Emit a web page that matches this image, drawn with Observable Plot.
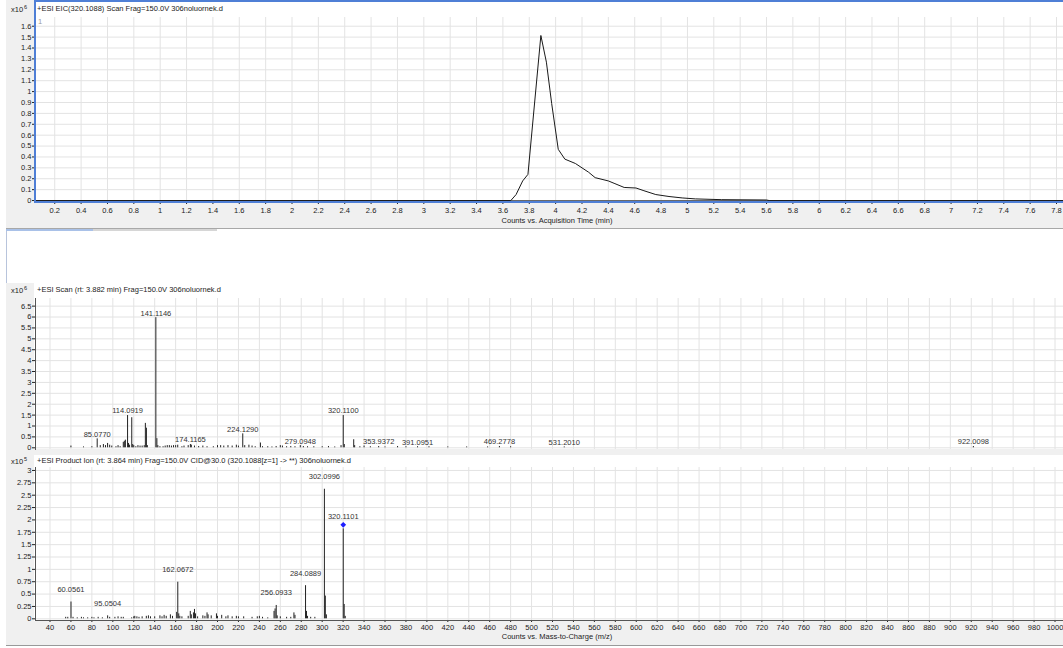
<!DOCTYPE html>
<html><head><meta charset="utf-8">
<script src="https://cdn.jsdelivr.net/npm/d3@7"></script>
<script src="https://cdn.jsdelivr.net/npm/@observablehq/plot@0.6"></script>
<style>
body{margin:0;background:#fff;}
#wrap{position:relative;width:1063px;height:648px;overflow:hidden;font-family:"Liberation Sans",Arial,sans-serif;color:#222;background:#fff;}
.bg{position:absolute;background:#f0f0f0;}
.t{position:absolute;font-size:7.5px;white-space:nowrap;line-height:1;color:#222;}
.t sup{font-size:5.5px;vertical-align:3px;margin-left:1px;}
#wrap svg{position:absolute;left:0;}
</style></head><body><div id="wrap">
<div class="bg" style="left:6px;top:0;width:28px;height:228px"></div>
<div class="bg" style="left:6px;top:203px;width:1057px;height:25px;border-bottom:1px solid #a8a8a8"></div>
<div style="position:absolute;left:6px;top:229px;width:87px;height:2px;background:#a9c1e8"></div>
<div style="position:absolute;left:93px;top:229px;width:124px;height:2px;background:#d6d6d6"></div>
<div style="position:absolute;left:6px;top:231px;width:1px;height:52px;background:#b8c4dc"></div>
<div class="bg" style="left:6px;top:283px;width:28px;height:172px"></div>
<div class="bg" style="left:6px;top:449px;width:1057px;height:6px"></div>
<div class="bg" style="left:6px;top:455px;width:28px;height:190px"></div>
<div class="bg" style="left:6px;top:621px;width:1057px;height:24px;border-bottom:1px solid #999"></div>
<div id="p1"></div><div id="p2"></div><div id="p3"></div>
<div style="position:absolute;left:34px;top:0;width:1040px;height:203px;box-sizing:border-box;border:2px solid #4f7fd6;pointer-events:none"></div>
<div class="t" style="left:11px;top:5px">x10<sup>6</sup></div>
<div class="t" style="left:37px;top:5px">+ESI EIC(320.1088) Scan Frag=150.0V 306noluornek.d</div>
<div class="t" style="left:38px;top:18px;color:#999">1</div>
<div class="t" style="left:557px;top:217px;transform:translateX(-50%)">Counts vs. Acquisition Time (min)</div>
<div class="t" style="left:11px;top:286px">x10<sup>6</sup></div>
<div class="t" style="left:37px;top:286px">+ESI Scan (rt: 3.882 min) Frag=150.0V 306noluornek.d</div>
<div class="t" style="left:11px;top:457px">x10<sup>5</sup></div>
<div class="t" style="left:37px;top:457px">+ESI Product Ion (rt: 3.864 min) Frag=150.0V CID@30.0 (320.1088[z=1] -&gt; **) 306noluornek.d</div>
<div class="t" style="left:557px;top:633px;transform:translateX(-50%)">Counts vs. Mass-to-Charge (m/z)</div>
</div>
<script>
// ---- EIC chromatogram (x10^6 counts vs minutes)
const eicTime   = [0.05, 3.66, 3.70, 3.75, 3.79, 3.888, 3.93, 3.97, 4.02, 4.07, 4.15, 4.25, 4.30, 4.40, 4.45, 4.52, 4.61, 4.67, 4.76, 4.86, 4.96, 5.06, 5.26, 5.60, 5.62, 7.86];
const eicCounts = [0, 0, 0.055, 0.18, 0.24, 1.515, 1.27, 0.89, 0.47, 0.38, 0.34, 0.26, 0.21, 0.18, 0.155, 0.12, 0.115, 0.09, 0.055, 0.037, 0.024, 0.015, 0.008, 0.005, 0, 0];
const timeTicks = [0.2,0.4,0.6,0.8,1,1.2,1.4,1.6,1.8,2,2.2,2.4,2.6,2.8,3,3.2,3.4,3.6,3.8,4,4.2,4.4,4.6,4.8,5,5.2,5.4,5.6,5.8,6,6.2,6.4,6.6,6.8,7,7.2,7.4,7.6,7.8];
const eicYTicks = [0,0.1,0.2,0.3,0.4,0.5,0.6,0.7,0.8,0.9,1,1.1,1.2,1.3,1.4,1.5,1.6];

// ---- MS scan (x10^6 counts vs m/z)
const scanMz = [60,72,80,85.0770,88,91,93,95,97,99,103,105,107,110,111,112,114.0919,115,116,118.09,119,120,122,124,126,128,130,131.1,132.1,133,141.1146,142.1,143,145,148,150,152,154,156,158,160,162,166,168,172,174.1165,175,178,182,186,190,196,200,203,206,210,214,218,220,224.1290,226,230,233,236,241,243,248,252,256,260,262,266,270,274,279.0948,282,286,292,300,306,312,318,320.1100,321.1,330.1,331,336,340,346,353.9372,360,372,380,391.0951,402,420,438,458,469.2778,480,531.2010,922.0098];
const scanInt = [0.08,0.04,0.05,0.41,0.1,0.15,0.1,0.2,0.12,0.08,0.05,0.1,0.05,0.25,0.3,0.35,1.48,0.2,0.12,1.38,0.15,0.1,0.05,0.1,0.08,0.08,0.1,1.12,0.9,0.1,5.97,0.42,0.1,0.05,0.05,0.08,0.1,0.1,0.08,0.1,0.1,0.12,0.05,0.08,0.1,0.15,0.12,0.08,0.06,0.08,0.05,0.05,0.1,0.1,0.08,0.1,0.08,0.12,0.08,0.64,0.1,0.12,0.08,0.05,0.22,0.05,0.05,0.04,0.06,0.1,0.08,0.05,0.06,0.05,0.1,0.06,0.05,0.05,0.05,0.06,0.04,0.1,1.48,0.15,0.37,0.1,0.05,0.08,0.05,0.06,0.04,0.06,0.05,0.05,0.05,0.04,0.04,0.04,0.06,0.05,0.04,0.06];
const scanLabels = ["85.0770","114.0919","141.1146","174.1165","224.1290","279.0948","320.1100","353.9372","391.0951","469.2778","531.2010","922.0098"];
const scanYTicks = [0,0.5,1,1.5,2,2.5,3,3.5,4,4.5,5,5.5,6,6.5];

// ---- Product ion spectrum (x10^5 counts vs m/z)
const prodMz = [55,57,60.0561,62,66,70,72,76,80,82,86,90,95.0504,97,102,105,108,110,118,120,121,123,125,128,132,134,136,140,145,147,149,151,155,157,161,162.0672,163,164,166,172,174,175,177,178,179,181,186,188,190,191,194,199,200,204,208,210,214,218,220,225,233,238,240,243,248,254,255,256.0933,257,260,266,270,273,274,284.0889,285,286,289,293,302.0996,303,304,320.1101,321,322];
const prodInt = [0.03,0.03,0.34,0.03,0.02,0.03,0.02,0.02,0.03,0.02,0.03,0.02,0.06,0.03,0.03,0.04,0.03,0.03,0.02,0.04,0.05,0.04,0.03,0.04,0.05,0.06,0.04,0.04,0.06,0.04,0.07,0.05,0.08,0.05,0.13,0.74,0.1,0.05,0.04,0.05,0.15,0.08,0.12,0.19,0.1,0.04,0.06,0.05,0.12,0.08,0.06,0.1,0.05,0.07,0.04,0.06,0.04,0.05,0.04,0.04,0.03,0.04,0.05,0.03,0.02,0.15,0.2,0.27,0.06,0.04,0.03,0.03,0.12,0.07,0.67,0.15,0.05,0.03,0.03,2.62,0.46,0.08,1.82,0.29,0.05];
const prodLabels = ["60.0561","95.0504","162.0672","256.0933","284.0889","302.0996","320.1101"];
const precursorMz = [320.1101];
const precursorLevel = [1.9];
const prodYTicks = [0,0.25,0.5,0.75,1,1.25,1.5,1.75,2,2.25,2.5,2.75,3];
const mzTicks = [40,60,80,100,120,140,160,180,200,220,240,260,280,300,320,340,360,380,400,420,440,460,480,500,520,540,560,580,600,620,640,660,680,700,720,740,760,780,800,820,840,860,880,900,920,940,960,980,1000];

const gridColor = "#e3e3e3";
const style = {background:"transparent", fontFamily:'"Liberation Sans", Arial, sans-serif', fontSize:"7.5px", color:"#222", overflow:"visible"};
const fmt = d => String(d);
function labelTable(labels, mzs, ints) {
  return labels.map(s => { const x = +s; const i = d3.minIndex(mzs, m => Math.abs(m - x)); return {mz: x, v: ints[i], text: s}; });
}

const eic = eicTime.map((t, i) => ({t, v: eicCounts[i]}));
const p1 = Plot.plot({
  width: 1063, height: 228, marginLeft: 35, marginRight: 0, marginTop: 17, marginBottom: 26,
  style,
  x: {domain: [0.054, 7.853]}, y: {domain: [-0.018, 1.68]},
  marks: [
    Plot.gridX(timeTicks, {stroke: gridColor, strokeOpacity: 1}),
    Plot.gridY(eicYTicks, {stroke: gridColor, strokeOpacity: 1}),
    Plot.ruleY([0], {stroke: "#666"}),
    Plot.line(eic, {x: "t", y: "v", stroke: "#1a1a1a", strokeWidth: 1}),
    Plot.axisX(timeTicks, {tickSize: 2, tickPadding: 3, label: null, tickFormat: fmt}),
    Plot.axisY(eicYTicks, {tickSize: 3, tickPadding: 1, label: null, tickFormat: fmt}),
    Plot.frame({anchor: "left", stroke: "#555"})
  ]
});
p1.style.top = "0px";
document.getElementById("p1").append(p1);

const scan = scanMz.map((mz, i) => ({mz, v: scanInt[i]}));
const p2 = Plot.plot({
  width: 1063, height: 172, marginLeft: 35, marginRight: 0, marginTop: 15, marginBottom: 6,
  style,
  x: {domain: [26.15, 1008.1], axis: null}, y: {domain: [-0.078, 6.85]},
  marks: [
    Plot.gridX(mzTicks, {stroke: gridColor, strokeOpacity: 1}),
    Plot.gridY(scanYTicks, {stroke: gridColor, strokeOpacity: 1}),
    Plot.ruleX(scan, {x: "mz", y1: 0, y2: "v", stroke: "#222", strokeWidth: 1}),
    Plot.text(labelTable(scanLabels, scanMz, scanInt), {x: "mz", y: "v", text: "text", dy: -4.5, fill: "#333"}),
    Plot.axisY(scanYTicks, {tickSize: 3, tickPadding: 1, label: null, tickFormat: fmt}),
    Plot.frame({anchor: "left", stroke: "#555"})
  ]
});
p2.style.top = "283px";
document.getElementById("p2").append(p2);

const prod = prodMz.map((mz, i) => ({mz, v: prodInt[i]}));
const prec = precursorMz.map((mz, i) => ({mz, v: precursorLevel[i]}));
const p3 = Plot.plot({
  width: 1063, height: 193, marginLeft: 35, marginRight: 0, marginTop: 12, marginBottom: 28,
  style,
  x: {domain: [26.15, 1008.1]}, y: {domain: [-0.034, 3.06]},
  marks: [
    Plot.gridX(mzTicks, {stroke: gridColor, strokeOpacity: 1}),
    Plot.gridY(prodYTicks, {stroke: gridColor, strokeOpacity: 1}),
    Plot.ruleX(prod, {x: "mz", y1: 0, y2: "v", stroke: "#222", strokeWidth: 1}),
    Plot.dot(prec, {x: "mz", y: "v", symbol: "diamond2", fill: "#1f1fff", stroke: "none", r: 2.6}),
    Plot.text(labelTable(prodLabels, prodMz, prodInt), {x: "mz", y: "v", text: "text", dy: -12.5, fill: "#333"}),
    Plot.axisX(mzTicks, {tickSize: 2, tickPadding: 2, label: null, tickFormat: fmt}),
    Plot.axisY(prodYTicks, {tickSize: 3, tickPadding: 1, label: null, tickFormat: fmt}),
    Plot.frame({anchor: "left", stroke: "#555"}),
    Plot.frame({anchor: "bottom", stroke: "#555"})
  ]
});
p3.style.top = "455px";
document.getElementById("p3").append(p3);
</script>
</body></html>
